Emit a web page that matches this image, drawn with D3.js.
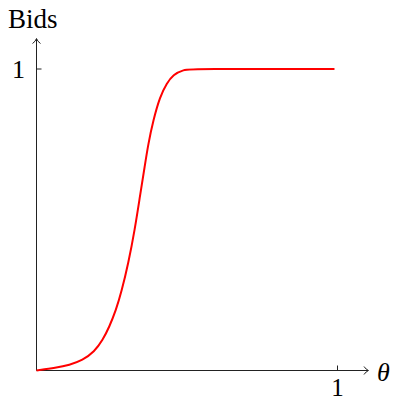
<!DOCTYPE html>
<html>
<head>
<meta charset="utf-8">
<script src="https://cdn.jsdelivr.net/npm/d3@7"></script>
<style>
  body { margin: 0; background: #fff; }
  text { font-family: "Liberation Serif", "DejaVu Serif", serif; fill: #000; }
</style>
</head>
<body>
<div id="chart"></div>
<script>
// data
const theta = [0, 0.065, 0.109, 0.153, 0.192, 0.220, 0.242, 0.264, 0.282, 0.305, 0.327, 0.344, 0.360, 0.371, 0.388, 0.410, 0.433, 0.454, 0.488, 0.521, 0.99];
const bids  = [0, 0.009, 0.018, 0.034, 0.062, 0.101, 0.145, 0.200, 0.26, 0.355, 0.47, 0.58, 0.68, 0.75, 0.83, 0.908, 0.953, 0.981, 0.998, 1, 1];
const xTicks = [1];
const yTicks = [1];

const width = 393, height = 401;
// origin at (36.5, 370.5)
const x0 = 36.5, y0 = 370.5;

const svg = d3.select("#chart").append("svg")
  .attr("width", width)
  .attr("height", height);

const xScale = d3.scaleLinear().domain([0, 1]).range([x0, 337.5]);
const yScale = d3.scaleLinear().domain([0, 1]).range([y0, 69]);

// axes
const axisColor = "#222";
svg.append("line")
  .attr("x1", x0).attr("y1", y0).attr("x2", 368).attr("y2", y0)
  .attr("stroke", axisColor).attr("stroke-width", 1);
svg.append("line")
  .attr("x1", x0).attr("y1", y0).attr("x2", x0).attr("y2", 39)
  .attr("stroke", axisColor).attr("stroke-width", 1);

// arrow heads
svg.append("path")
  .attr("d", "M364,366.5 Q366,369.5 368.5,370.5 Q366,371.5 364,374.5")
  .attr("fill", "none").attr("stroke", axisColor).attr("stroke-width", 1);
svg.append("path")
  .attr("d", "M32.5,43.5 Q35.5,41.5 36.5,38.5 Q37.5,41.5 40.5,43.5")
  .attr("fill", "none").attr("stroke", axisColor).attr("stroke-width", 1);

// ticks
svg.selectAll(".xt").data(xTicks).enter().append("line")
  .attr("x1", d => xScale(d)).attr("x2", d => xScale(d))
  .attr("y1", y0).attr("y2", y0 - 5)
  .attr("stroke", axisColor);
svg.selectAll(".xl").data(xTicks).enter().append("text")
  .attr("x", d => xScale(d)).attr("y", 396)
  .attr("text-anchor", "middle").attr("font-size", 25)
  .text(d => d);

svg.selectAll(".yt").data(yTicks).enter().append("line")
  .attr("x1", x0).attr("x2", x0 + 5)
  .attr("y1", d => yScale(d)).attr("y2", d => yScale(d))
  .attr("stroke", axisColor);
svg.selectAll(".yl").data(yTicks).enter().append("text")
  .attr("x", 25).attr("y", d => yScale(d) + 9)
  .attr("text-anchor", "end").attr("font-size", 26)
  .text(d => d);

// axis labels
svg.append("text").attr("x", 8).attr("y", 28).attr("font-size", 27).text("Bids");
svg.append("text").attr("x", 377).attr("y", 381).attr("font-size", 26)
  .attr("font-style", "italic").text("θ");

// curve
const line = d3.line()
  .x((d, i) => xScale(theta[i]))
  .y(d => yScale(d))
  .curve(d3.curveBasis);

svg.append("path")
  .datum(bids)
  .attr("d", line)
  .attr("fill", "none")
  .attr("stroke", "#ff0000")
  .attr("stroke-width", 2);
</script>
</body>
</html>
